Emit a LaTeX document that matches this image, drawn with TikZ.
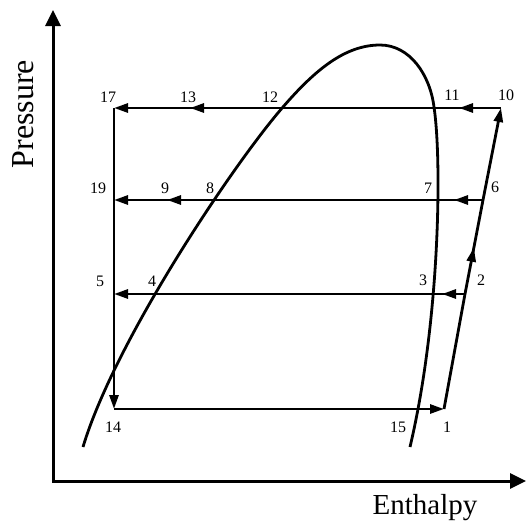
\documentclass[tikz,border=0pt]{standalone}
\usepackage{fontspec}
\setmainfont{Liberation Serif}
\usetikzlibrary{arrows.meta, decorations.markings}

\begin{document}
\begin{tikzpicture}[
          x=1pt, y=-1pt,
          axis/.style={line width=3pt,
                       {Triangle[length=16pt,width=15pt]}-{Triangle[length=16pt,width=15pt]}},
          flow/.style={line width=2.8pt, -{Triangle[length=14pt,width=9pt]}},
          mid/.style={postaction={decorate, decoration={markings,
                      mark=at position #1 with {\arrow{Triangle[length=14pt,width=9pt]}}}}},
          dome/.style={line width=2.8pt},
          num/.style={font=\fontsize{16}{19}\selectfont, inner sep=0pt},
          big/.style={font=\fontsize{29}{34}\selectfont, inner sep=0pt}
        ]
          \useasboundingbox (0,0) rectangle (528,522);
          \coordinate (O)    at (53,481);
          \coordinate (ytop) at (53,10);
          \coordinate (xend) at (526,481);
          \draw[axis] (ytop) -- (O) -- (xend);
          \node[big, font=\fontsize{32}{36}\selectfont, rotate=90] (ylab) at (23,114) {Pressure};
          \node[big] (xlab) at (425,508) {Enthalpy};

          \coordinate (p1)  at (444,409);
          \coordinate (p2)  at (465,294);
          \coordinate (p6)  at (483,200);
          \coordinate (p10) at (501,108);
          \coordinate (p17) at (114,108);
          \coordinate (p19) at (114,200);
          \coordinate (p5)  at (114,294);
          \coordinate (p14) at (114,409);

          \draw[dome] (83,447) .. controls (115,340) and (235,162) .. (283,107)
            .. controls (315,70) and (345,45) .. (380,45)
            .. controls (410,45) and (430,75) .. (434,107)
            .. controls (442,160) and (440,320) .. (410,447);

          \draw[flow, mid=42pt, mid=311pt] (p10) -- (p17);
          \draw[flow, mid=29pt, mid=316pt] (p6) -- (p19);
          \draw[flow, mid=23pt] (p2) -- (p5);
          \draw[flow] (p17) -- (p14);
          \draw[flow] (p14) -- (p1);
          \draw[flow, mid=164pt] (p1) -- (p2) -- (p6) -- (p10);

          \node[num] (n17) at (108,97)  {17};
          \node[num] (n13) at (188,97)  {13};
          \node[num] (n12) at (270,97)  {12};
          \node[num] (n11) at (452,95)  {11};
          \node[num] (n10) at (506,95)  {10};
          \node[num] (n19) at (98,188)  {19};
          \node[num] (n9)  at (165,188) {9};
          \node[num] (n8)  at (210,188) {8};
          \node[num] (n7)  at (428,188) {7};
          \node[num] (n6)  at (495,187) {6};
          \node[num] (n5)  at (100,281) {5};
          \node[num] (n4)  at (152,281) {4};
          \node[num] (n3)  at (423,280) {3};
          \node[num] (n2)  at (481,280) {2};
          \node[num] (n14) at (113,427) {14};
          \node[num] (n15) at (398,427) {15};
          \node[num] (n1)  at (447,427) {1};
        \end{tikzpicture}
\end{document}
